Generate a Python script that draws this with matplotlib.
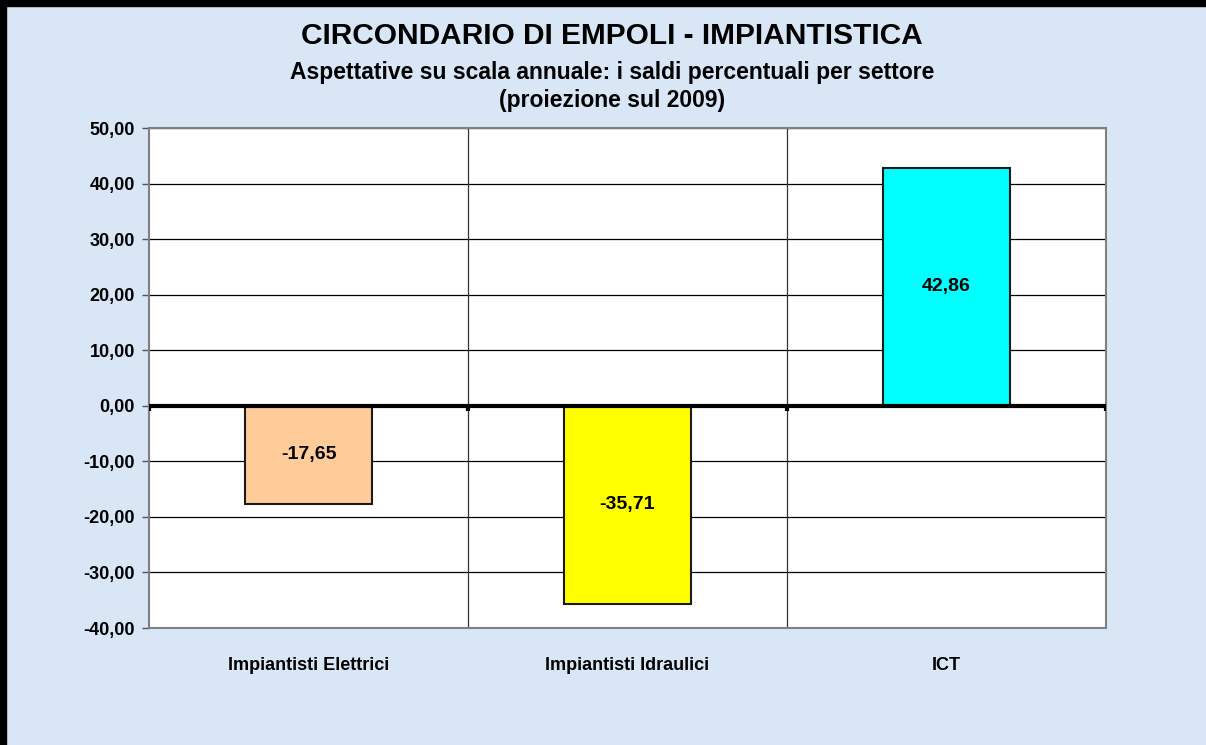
import matplotlib
matplotlib.use("Agg")
import matplotlib.pyplot as plt
import matplotlib.patches as patches

categories = ["Impiantisti Elettrici", "Impiantisti Idraulici", "ICT"]
values = [-17.65, -35.71, 42.86]
bar_colors = ["#FFCC99", "#FFFF00", "#00FFFF"]
yticks = [-40, -30, -20, -10, 0, 10, 20, 30, 40, 50]

BG = "#D8E6F6"
FONT = "Liberation Sans"


def fmt(v):
    return f"{v:.2f}".replace(".", ",")


fig = plt.figure(figsize=(12.06, 7.45), dpi=100)
fig.patch.set_facecolor(BG)

# black frame on the left and top edges
fig.add_artist(patches.Rectangle((0, 0), 6 / 1206, 1, transform=fig.transFigure,
                                 color="black", zorder=10))
fig.add_artist(patches.Rectangle((0, 1 - 6 / 745), 1, 6 / 745, transform=fig.transFigure,
                                 color="black", zorder=10))

ax = fig.add_axes([149 / 1206, 1 - 628 / 745, (1106 - 149) / 1206, 500 / 745])
ax.set_facecolor("white")

x = list(range(len(categories)))
ax.bar(x, values, width=0.4, color=bar_colors, edgecolor="#1a1a1a",
       linewidth=1.5, zorder=3)

for xi, v in zip(x, values):
    ax.text(xi, v / 2, fmt(v), ha="center", va="center", fontsize=14,
            fontweight="bold", family=FONT, zorder=4)

ax.set_xlim(-0.5, len(categories) - 0.5)
ax.set_ylim(-40, 50)
ax.set_yticks(yticks)
ax.set_yticklabels([fmt(t) for t in yticks], fontsize=13, fontweight="bold",
                   family=FONT)
ax.tick_params(axis="y", direction="out", length=5, width=1, color="#555555", pad=5)

ax.set_xticks(x)
ax.set_xticklabels(categories, fontsize=13, fontweight="bold", family=FONT)
ax.tick_params(axis="x", length=0, pad=21)

ax.yaxis.grid(True, color="black", linewidth=0.9, zorder=1)
ax.set_axisbelow(True)
for b in [0.5 + i for i in range(len(categories) - 1)]:
    ax.axvline(b, color="#333333", linewidth=0.9, zorder=1)

# category axis on zero with small boundary ticks
ax.axhline(0, color="black", linewidth=3, zorder=5)
bounds = [i - 0.5 for i in range(len(categories) + 1)]
ax.vlines(bounds, -0.9, 0, color="black", linewidth=3, zorder=5)

for s in ax.spines.values():
    s.set_color("#808080")
    s.set_linewidth(1.5)

cx = 612 / 1206
fig.text(cx, 1 - 36 / 745, "CIRCONDARIO DI EMPOLI - IMPIANTISTICA", ha="center",
         va="center", fontsize=21.5, fontweight="bold", family=FONT)
fig.text(cx, 1 - 72 / 745, "Aspettative su scala annuale: i saldi percentuali per settore",
         ha="center", va="center", fontsize=16.5, fontweight="bold", family=FONT)
fig.text(cx, 1 - 101 / 745, "(proiezione sul 2009)", ha="center", va="center",
         fontsize=16.5, fontweight="bold", family=FONT)

fig.savefig("out.png", dpi=100, facecolor=BG)
